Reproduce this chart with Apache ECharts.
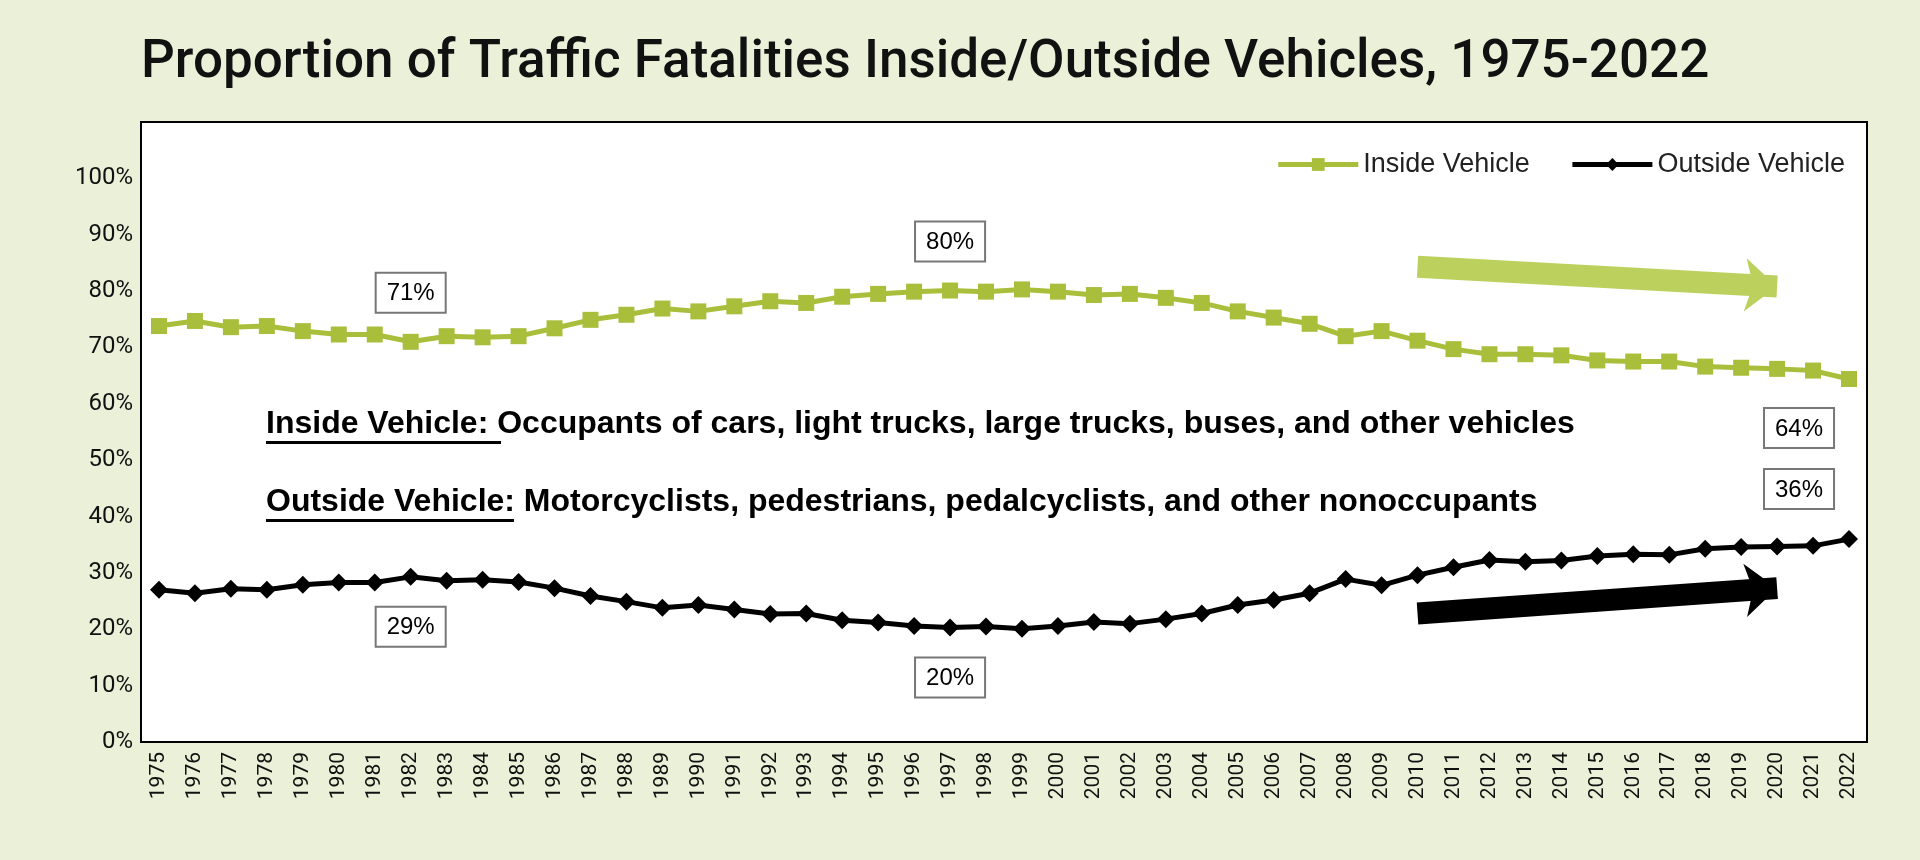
<!DOCTYPE html>
<html>
<head>
<meta charset="utf-8">
<script src="https://cdn.jsdelivr.net/npm/echarts@6/dist/echarts.min.js"></script>
<style>
  html, body { margin: 0; padding: 0; background: #ebf1d9; }
  #main { width: 1920px; height: 860px; }
</style>
</head>
<body>
<div id="main"></div>
<script>
var years = [];
for (var y = 1975; y <= 2022; y++) years.push(String(y));

var insideVals = [73.8, 74.7, 73.6, 73.8, 72.9, 72.3, 72.3, 71.0, 72.0, 71.8, 72.0, 73.4,
    74.9, 75.8, 76.9, 76.4, 77.3, 78.2, 77.9, 79.0, 79.5, 79.9, 80.1, 79.9, 80.3, 79.9,
    79.3, 79.5, 78.8, 77.9, 76.4, 75.3, 74.2, 72.0, 72.9, 71.2, 69.7, 68.8, 68.8, 68.6,
    67.7, 67.5, 67.5, 66.6, 66.4, 66.2, 65.9, 64.4];
var outsideVals = [27.0, 26.4, 27.2, 27.0, 27.9, 28.3, 28.3, 29.3, 28.6, 28.8, 28.4, 27.3,
    25.9, 24.9, 23.8, 24.3, 23.5, 22.7, 22.8, 21.6, 21.2, 20.6, 20.3, 20.5, 20.1, 20.6,
    21.3, 21.0, 21.8, 22.8, 24.3, 25.2, 26.4, 28.9, 27.8, 29.6, 31.0, 32.3, 32.0, 32.2,
    33.0, 33.3, 33.2, 34.3, 34.6, 34.7, 34.8, 36.0];

// callout labels: [yearIndex, text, position]
var insideCallouts = [[7, '71%', 'top'], [22, '80%', 'top'], [47, '64%', 'bottom']];
var outsideCallouts = [[7, '29%', 'bottom'], [22, '20%', 'bottom'], [47, '36%', 'top']];

var calloutStyle = {
    show: true, color: '#000', fontSize: 24, fontFamily: 'Liberation Sans',
    backgroundColor: '#fff', borderColor: '#777', borderWidth: 2,
    padding: [8, 10, 6, 10], distance: 22
};

function withCallouts(vals, callouts) {
    var data = vals.map(function (v) { return v; });
    callouts.forEach(function (c) {
        var lbl = Object.assign({}, calloutStyle, { position: c[2], formatter: c[1] });
        if (c[0] === 47) lbl.offset = [-50, 0];
        data[c[0]] = { value: vals[c[0]], label: lbl };
    });
    return data;
}

var chart = echarts.init(document.getElementById('main'));
chart.setOption({
    backgroundColor: '#ebf1d9',
    animation: false,
    title: {
        text: 'Proportion of Traffic Fatalities Inside/Outside Vehicles, 1975-2022',
        left: 136, top: 32,
        textStyle: { fontFamily: 'Roboto', fontWeight: 500, fontSize: 53, color: '#111' }
    },
    legend: {
        right: 70, top: 146, itemWidth: 80, itemHeight: 16, itemGap: 40,
        textStyle: { fontFamily: 'Liberation Sans', fontSize: 27, color: '#222' },
        data: ['Inside Vehicle', 'Outside Vehicle'],
        itemStyle: { borderWidth: 0 },
        lineStyle: { width: 5 }
    },
    grid: { left: 141, right: 53, top: 122, bottom: 118, backgroundColor: '#fff', show: true, borderColor: '#000', borderWidth: 2 },
    xAxis: {
        type: 'category', data: years, boundaryGap: true,
        axisLine: { lineStyle: { color: '#000', width: 2 } },
        axisTick: { show: false },
        axisLabel: { rotate: 90, interval: 0, fontFamily: 'Roboto', fontSize: 21, color: '#111', margin: 10 }
    },
    yAxis: {
        type: 'value', min: 0, max: 110, interval: 10,
        splitLine: { show: false },
        axisLine: { show: true, lineStyle: { color: '#000', width: 2 } },
        axisTick: { show: false },
        axisLabel: {
            fontFamily: 'Roboto', fontSize: 24, color: '#111',
            formatter: function (v) { return v > 100 ? '' : v + '%'; }
        }
    },
    series: [
        {
            name: 'Inside Vehicle', type: 'line', data: withCallouts(insideVals, insideCallouts),
            symbol: 'rect', symbolSize: 16, color: '#a9bf3b',
            lineStyle: { width: 5, color: '#a9bf3b' }, itemStyle: { color: '#a9bf3b' },
            markLine: {
                silent: true, symbol: ['none', 'arrow'], symbolSize: [40, 32],
                lineStyle: { type: 'solid', width: 22, color: '#bcd05e' }, label: { show: false },
                data: [[{ coord: ['2010', 84.3] }, { coord: ['2020', 80.8] }]]
            }
        },
        {
            name: 'Outside Vehicle', type: 'line', data: withCallouts(outsideVals, outsideCallouts),
            symbol: 'diamond', symbolSize: 18, color: '#000',
            lineStyle: { width: 5, color: '#000' }, itemStyle: { color: '#000' },
            markLine: {
                silent: true, symbol: ['none', 'arrow'], symbolSize: [40, 32],
                lineStyle: { type: 'solid', width: 22, color: '#000' }, label: { show: false },
                data: [[{ coord: ['2010', 22.8] }, { coord: ['2020', 27.3] }]]
            }
        }
    ],
    graphic: [
        {
            type: 'text', left: 266, top: 408, z: 10,
            style: {
                text: 'Inside Vehicle: Occupants of cars, light trucks, large trucks, buses, and other vehicles',
                font: 'bold 32px "Liberation Sans"', fill: '#000'
            }
        },
        { type: 'rect', left: 266, top: 441, z: 10, shape: { width: 235, height: 3 }, style: { fill: '#000' } },
        {
            type: 'text', left: 266, top: 486, z: 10,
            style: {
                text: 'Outside Vehicle: Motorcyclists, pedestrians, pedalcyclists, and other nonoccupants',
                font: 'bold 32px "Liberation Sans"', fill: '#000'
            }
        },
        { type: 'rect', left: 266, top: 519, z: 10, shape: { width: 248, height: 3 }, style: { fill: '#000' } }
    ]
});
</script>
</body>
</html>
